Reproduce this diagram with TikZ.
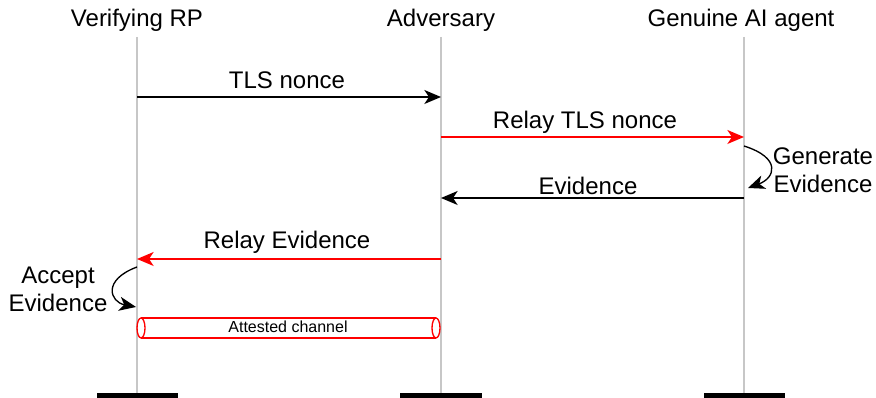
\documentclass[tikz,border=0pt]{standalone}
\usepackage{fontspec}
\setmainfont{Liberation Sans}
\usetikzlibrary{arrows.meta}

\tikzset{
  msg/.style={-{Stealth[length=12.5pt,width=10.5pt,inset=3.5pt]}, line width=1pt},
  lifeline/.style={draw=black!22, line width=1.3pt},
  lbl/.style={inner sep=0pt, font=\fontsize{18}{21}\selectfont}
}

\begin{document}
\begin{tikzpicture}[x=0.75pt, y=-0.75pt]
    \useasboundingbox (0,0) rectangle (876,398);

    % heads
    \node[lbl] (rp) at (137,20) {Verifying RP};
    \node[lbl] (adv) at (441,20) {Adversary};
    \node[lbl] (agent) at (741,20) {Genuine AI agent};

    % lifelines
    \coordinate (rpTop) at (137,37);   \coordinate (rpEnd) at (137,395);
    \coordinate (advTop) at (441,37);  \coordinate (advEnd) at (441,395);
    \coordinate (agTop) at (744,37);   \coordinate (agEnd) at (744,395);
    \draw[lifeline] (rpTop) -- (rpEnd);
    \draw[lifeline] (advTop) -- (advEnd);
    \draw[lifeline] (agTop) -- (agEnd);

    \fill[black] (97,393) rectangle (178,398);
    \fill[black] (400,393) rectangle (482,398);
    \fill[black] (704,393) rectangle (785,398);

    % messages
    \coordinate (rpA) at (137,97);   \coordinate (advA) at (441,97);
    \coordinate (advB) at (441,137); \coordinate (agB) at (744,137);
    \coordinate (agC) at (744,198);  \coordinate (advC) at (441,198);
    \coordinate (advD) at (441,259); \coordinate (rpD) at (137,259);

    \draw[msg] (rpA) -- (advA);
    \draw[msg, red] (advB) -- (agB);
    \draw[msg] (agC) -- (advC);
    \draw[msg, red] (advD) -- (rpD);

    \node[lbl] (tls) at (287,80) {TLS nonce};
    \node[lbl] (relaytls) at (585,122) {Relay TLS nonce};
    \node[lbl] (ev) at (588,186) {Evidence};
    \node[lbl] (relayev) at (287,242) {Relay Evidence};

    % self steps
    \coordinate (genS) at (744,146); \coordinate (genE) at (748,188);
    \draw[msg] (genS) .. controls (782,158) and (775,178) .. (genE);
    \node[lbl, align=center] (gen) at (823,170) {Generate\\Evidence};

    \coordinate (accS) at (137,267); \coordinate (accE) at (136,307);
    \draw[msg] (accS) .. controls (102,280) and (110,302) .. (accE);
    \node[lbl, align=center] (acc) at (58,289) {Accept\\Evidence};

    % attested channel
    \node[inner sep=0pt, font=\fontsize{12}{14}\selectfont] (chan) at (288,327) {Attested channel};
    \draw[red, line width=1pt]
    (141,318) -- (436,318)
    (141,338) -- (436,338);
    \draw[red, line width=1pt] (141,328) ellipse (4 and 10);
    \draw[red, line width=1pt] (436,328) ellipse (4 and 10);
\end{tikzpicture}
\end{document}
